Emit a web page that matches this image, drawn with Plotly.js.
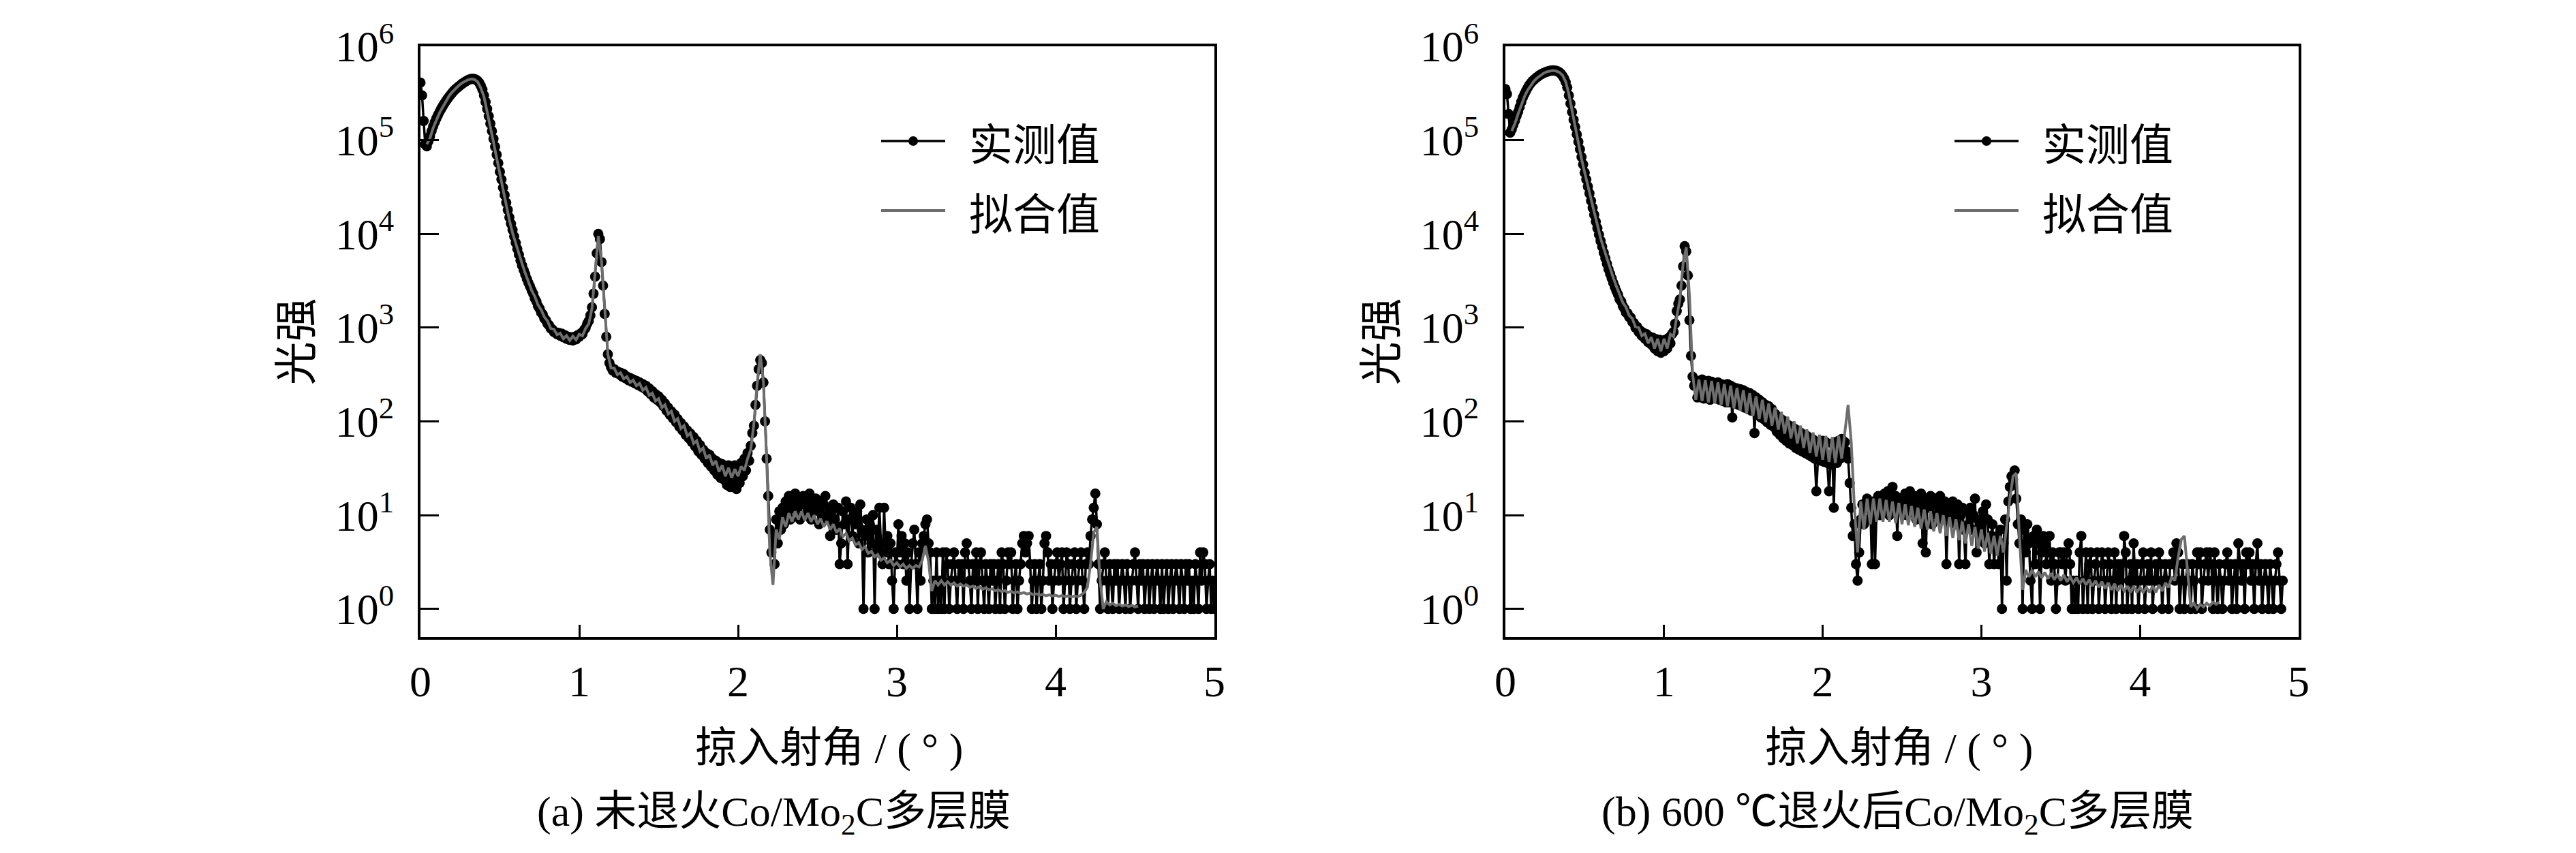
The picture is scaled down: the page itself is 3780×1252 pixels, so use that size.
<!DOCTYPE html>
<html>
<head>
<meta charset="utf-8">
<script src="https://cdn.plot.ly/plotly-3.0.1.min.js"></script>
<style>
  body { margin: 0; background: #fff; }
  #chart { width: 3780px; height: 1252px; }
</style>
</head>
<body>
<div id="chart"></div>
<script>
// scan settings (instrument steps, degrees)
var scanStart = 0, scanStep = 0.01;
var fitStart = 0.04, fitStep = 0.02;

// (a) as-deposited, measured counts, one value per 0.01 deg
var measuredA = [
  410000, 300000, 160000, 90000, 86000, 97000, 110000, 125000, 140000, 155000,
  170000, 185000, 200000, 215000, 230000, 245000, 260000, 275000, 290000, 305000,
  320000, 335000, 348000, 360000, 372000, 384000, 396000, 407000, 418000, 428000,
  437000, 444000, 449000, 450000, 447000, 440000, 428000, 408000, 380000, 345000,
  300000, 255000, 215000, 180000, 150000, 125000, 103000, 85000, 70000, 57000,
  46000, 38000, 31000, 26000, 21500, 18000, 15000, 12800, 11000, 9400,
  8000, 6900, 6000, 5200, 4600, 4100, 3700, 3300, 3000, 2750,
  2500, 2300, 2050, 1900, 1700, 1600, 1450, 1380, 1250, 1200,
  1100, 1060, 980, 960, 900, 890, 850, 880, 820, 860,
  790, 830, 760, 800, 740, 790, 730, 800, 750, 830,
  800, 870, 850, 940, 990, 1100, 1180, 1350, 1650, 2300,
  3500, 6200, 10000, 8800, 5000, 2800, 1400, 800, 520, 420,
  380, 350, 360, 330, 340, 320, 330, 300, 320, 290,
  300, 275, 290, 265, 280, 255, 270, 245, 260, 235,
  250, 225, 240, 210, 225, 195, 210, 180, 195, 170,
  185, 160, 170, 145, 155, 130, 140, 118, 128, 108,
  118, 98, 106, 88, 96, 80, 88, 72, 80, 66,
  74, 60, 68, 54, 62, 48, 56, 44, 50, 40,
  46, 36, 44, 33, 40, 30, 38, 27, 36, 25,
  35, 24, 33, 21, 34, 20, 32, 22, 34, 19,
  33, 22, 36, 26, 40, 30, 46, 38, 55, 75,
  90, 150, 240, 360, 450, 420, 260, 100, 40, 16,
  7, 4, 6, 3, 9, 5, 11, 7, 12, 8,
  14, 10, 16, 9, 15, 12, 17, 11, 14, 9,
  13, 16, 10, 15, 12, 17, 9, 14, 11, 15,
  12, 8, 14, 10, 13, 16, 9, 12, 6, 11,
  13, 9, 7, 12, 3, 5, 11, 8, 14, 3,
  9, 12, 6, 10, 8, 11, 5, 13, 7, 1,
  6, 9, 4, 8, 5, 10, 1, 7, 4, 12,
  5, 3, 12, 4, 6, 3, 5, 2, 1, 4,
  3, 8, 4, 6, 3, 5, 2, 4, 1, 3,
  5, 7, 3, 1, 4, 2, 5, 6, 8, 9,
  5, 4, 1, 2, 1, 4, 1, 2, 1, 4,
  1, 4, 3, 1, 2, 3, 4, 2, 1, 3,
  2, 3, 1, 4, 5, 3, 2, 1, 3, 2,
  4, 1, 3, 4, 2, 1, 3, 2, 1, 3,
  2, 3, 1, 2, 3, 1, 4, 3, 1, 2,
  4, 3, 4, 1, 2, 3, 1, 2, 3, 5,
  6, 4, 5, 6, 3, 1, 2, 3, 1, 2,
  3, 1, 2, 5, 6, 4, 2, 3, 1, 2,
  3, 4, 2, 3, 4, 1, 2, 4, 3, 1,
  2, 3, 4, 1, 2, 3, 4, 2, 1, 3,
  4, 3, 6, 9, 12, 17, 8, 3, 1, 2,
  3, 4, 2, 1, 3, 2, 1, 3, 2, 3,
  1, 2, 3, 2, 1, 3, 2, 1, 2, 3,
  4, 2, 1, 3, 2, 3, 1, 2, 3, 1,
  2, 3, 1, 2, 3, 2, 1, 3, 1, 2,
  3, 1, 2, 3, 1, 2, 3, 2, 1, 3,
  2, 1, 3, 2, 3, 1, 2, 1, 3, 2,
  1, 4, 2, 4, 3, 1, 2, 3, 1, 2, 1
];

// (a) fitted curve, one value per 0.02 deg from 0.04
var fitA = [
  90000, 105000, 135000, 165000, 195000, 225000, 260000, 295000, 325000, 355000,
  380000, 405000, 425000, 440000, 448000, 443000, 418000, 360000, 290000, 205000,
  140000, 95000, 64000, 43000, 29000, 20000, 14000, 10200, 7800, 6000,
  4800, 3800, 3100, 2500, 2150, 1750, 1550, 1300, 1180, 980,
  960, 840, 870, 760, 820, 730, 810, 740, 850, 820,
  980, 1100, 1600, 3600, 9500, 5200, 1500, 520, 370, 370,
  315, 330, 285, 300, 260, 275, 240, 255, 215, 230,
  190, 200, 165, 175, 140, 150, 120, 128, 100, 107,
  84, 90, 70, 75, 58, 62, 48, 52, 40, 44,
  34, 38, 29, 34, 26, 32, 25, 31, 26, 33,
  30, 40, 50, 95, 250, 520, 260, 40, 4, 1.8,
  7, 5.5, 9.5, 7.5, 10.5, 8.5, 11, 9, 11, 8.8,
  10.5, 8.5, 10, 8, 9.2, 7.5, 8.6, 7, 8, 6.5,
  7.2, 5.9, 6.4, 5.3, 5.7, 4.8, 5.1, 4.3, 4.6, 3.9,
  4.1, 3.6, 3.8, 3.3, 3.5, 3.1, 3.3, 2.9, 3.1, 2.8,
  3.0, 2.7, 2.9, 2.7, 2.9, 2.8, 3.3, 4.7, 3.2, 1.55,
  2.0, 1.8, 2.0, 1.8, 1.95, 1.8, 1.9, 1.75, 1.85, 1.75,
  1.8, 1.7, 1.75, 1.65, 1.72, 1.62, 1.68, 1.6, 1.64, 1.56,
  1.6, 1.53, 1.57, 1.5, 1.54, 1.48, 1.52, 1.46, 1.49, 1.44,
  1.47, 1.42, 1.45, 1.4, 1.43, 1.38, 1.41, 1.37, 1.4, 1.36,
  1.39, 1.35, 1.38, 1.34, 1.37, 1.35, 1.4, 1.5, 1.7, 3.0,
  6.5, 7.5, 2.0, 1.0, 1.2, 1.1, 1.15, 1.08, 1.12, 1.07,
  1.1, 1.06, 1.09, 1.05, 1.07
];

// (b) annealed at 600 C, measured counts, one value per 0.01 deg
var measuredB = [
  350000, 310000, 190000, 120000, 130000, 145000, 160000, 180000, 200000, 225000,
  255000, 285000, 310000, 335000, 360000, 385000, 405000, 425000, 440000, 455000,
  470000, 485000, 497000, 508000, 518000, 527000, 535000, 542000, 548000, 552000,
  555000, 553000, 548000, 540000, 528000, 510000, 485000, 455000, 415000, 365000,
  300000, 245000, 200000, 165000, 138000, 115000, 96000, 80000, 66000, 55000,
  45000, 38000, 32000, 27000, 22500, 19000, 16000, 13500, 11500, 9800,
  8400, 7300, 6300, 5500, 4800, 4200, 3750, 3350, 3000, 2700,
  2450, 2250, 2000, 1900, 1700, 1600, 1450, 1420, 1300, 1280,
  1150, 1120, 1000, 1020, 900, 930, 820, 880, 760, 850,
  700, 800, 660, 780, 600, 750, 560, 740, 540, 730,
  560, 740, 600, 780, 680, 850, 900, 1100, 1500, 1800,
  2000, 2800, 4500, 7400, 6500, 3600, 1200, 500, 300, 240,
  260, 180, 270, 190, 280, 175, 260, 185, 270, 170,
  265, 180, 250, 175, 260, 170, 250, 165, 245, 160,
  250, 160, 240, 110, 230, 155, 225, 150, 220, 145,
  215, 140, 205, 135, 200, 130, 190, 75, 180, 120,
  170, 110, 160, 105, 150, 98, 145, 92, 135, 88,
  120, 78, 112, 72, 105, 66, 100, 62, 92, 58,
  88, 56, 84, 52, 80, 50, 76, 48, 72, 46,
  70, 44, 66, 42, 64, 40, 18, 39, 60, 38,
  62, 37, 60, 36, 18, 35, 58, 12, 60, 36,
  62, 40, 65, 45, 60, 48, 40, 22, 12, 6,
  8, 3, 2, 4, 9, 13, 8, 12, 15, 9,
  13, 3, 14, 3, 12, 16, 10, 14, 11, 17,
  12, 18, 10, 15, 20, 12, 16, 6, 14, 11,
  15, 12, 17, 10, 14, 18, 11, 13, 16, 9,
  14, 11, 17, 5, 13, 4, 15, 12, 16, 8,
  13, 15, 10, 12, 16, 9, 11, 14, 3, 10,
  12, 9, 14, 11, 8, 13, 3, 10, 12, 7,
  3, 11, 8, 12, 7, 10, 15, 4, 9, 6,
  8, 11, 5, 13, 9, 3, 6, 8, 3, 5,
  6, 3, 7, 1, 5, 9, 2, 14, 20, 26,
  24, 30, 15, 8, 5, 9, 1, 7, 4, 8,
  5, 2, 1, 6, 3, 7, 5, 1, 4, 6,
  5, 3, 4, 6, 2, 4, 3, 1, 2, 4,
  4, 3, 4, 2, 4, 5, 3, 1, 2, 1,
  2, 1, 4, 6, 1, 2, 4, 1, 3, 4,
  1, 2, 3, 4, 1, 2, 4, 3, 1, 2,
  4, 3, 1, 2, 4, 1, 3, 2, 3, 1,
  6, 4, 1, 2, 3, 1, 5, 2, 3, 1,
  2, 3, 4, 1, 2, 3, 2, 4, 1, 2,
  3, 2, 4, 3, 1, 2, 3, 2, 1, 3,
  3, 4, 2, 5, 4, 1, 2, 3, 1, 2,
  3, 2, 1, 3, 2, 1, 4, 3, 4, 1,
  2, 3, 4, 2, 4, 3, 1, 4, 2, 1,
  3, 2, 1, 2, 3, 4, 2, 3, 1, 2,
  3, 1, 5, 3, 2, 3, 1, 4, 3, 4,
  2, 3, 1, 3, 5, 2, 3, 1, 2, 3,
  2, 1, 3, 2, 1, 2, 3, 4, 2, 1,
  2
];

// (b) fitted curve, one value per 0.02 deg from 0.04
var fitB = [
  125000, 150000, 190000, 240000, 290000, 340000, 385000, 425000, 460000, 490000,
  515000, 535000, 548000, 552000, 545000, 528000, 492000, 420000, 310000, 205000,
  135000, 92000, 63000, 45000, 32000, 23500, 17000, 12500, 9000, 7000,
  5400, 4300, 3400, 2750, 2300, 1850, 1650, 1350, 1250, 1020,
  1000, 820, 860, 680, 790, 600, 760, 560, 760, 600,
  850, 800, 1300, 2000, 4800, 7200, 2200, 320, 170, 280,
  165, 275, 160, 270, 155, 260, 150, 250, 145, 240,
  138, 228, 130, 215, 122, 200, 114, 185, 106, 170,
  98, 155, 90, 140, 82, 126, 74, 112, 66, 100,
  58, 90, 52, 82, 46, 76, 42, 72, 39, 70,
  37, 68, 36, 70, 40, 75, 150, 60, 12, 4,
  14, 7, 15, 8, 15, 8.5, 15, 8.5, 14.5, 8.5,
  14, 8.2, 13.5, 8, 13, 7.8, 12.5, 7.5, 12, 7.2,
  11.5, 7, 11, 6.7, 10.5, 6.4, 10, 6, 9.5, 5.7,
  9, 5.4, 8.5, 5, 8, 4.7, 7.5, 4.4, 7, 4.1,
  6.5, 3.9, 6, 3.7, 6, 4, 8, 15, 26, 28,
  6, 1.6, 2.6, 2.2, 2.6, 2.2, 2.5, 2.15, 2.45, 2.1,
  2.4, 2.05, 2.35, 2.0, 2.3, 1.95, 2.2, 1.9, 2.15, 1.85,
  2.1, 1.8, 2.05, 1.75, 2.0, 1.7, 1.95, 1.65, 1.9, 1.6,
  1.85, 1.55, 1.8, 1.55, 1.75, 1.5, 1.75, 1.5, 1.7, 1.5,
  1.7, 1.5, 1.75, 1.5, 1.8, 1.55, 1.9, 1.7, 2.2, 2.0,
  3.5, 5.5, 6.0, 2.5, 1.05, 1.15, 1.0, 1.12, 1.05, 1.15,
  1.08, 1.18, 1.12, 1.18
];

var xTickVals = [0, 1, 2, 3, 4, 5];
var yTickVals = [1, 10, 100, 1000, 10000, 100000, 1000000];
var yTickText = ['10<sup>0</sup>', '10<sup>1</sup>', '10<sup>2</sup>', '10<sup>3</sup>',
                 '10<sup>4</sup>', '10<sup>5</sup>', '10<sup>6</sup>'];
var seriesNames = ['实测值', '拟合值'];
var panelTitles = ['(a) 未退火Co/Mo<sub>2</sub>C多层膜', '(b) 600 ℃退火后Co/Mo<sub>2</sub>C多层膜'];
var xTitle = '掠入射角 / ( ° )';
var yTitle = '光强';

// page geometry in pixels
var W = 3780, H = 1252;
function px(v) { return v / W; }
function py(v) { return 1 - v / H; }

var serif = 'Liberation Serif, "Noto Sans CJK SC", serif';
var cjk = '"Noto Sans CJK SC", sans-serif';
var measColor = '#000000';
var fitColor = '#6e6e6e';

// frames of the two panels
var frameA = [617, 1782];
var frameB = [2209, 3373];
var frameTop = 68, frameBottom = 935;

var traces = [
  { x0: scanStart, dx: scanStep, y: measuredA, xaxis: 'x', yaxis: 'y',
    mode: 'lines+markers', line: { color: measColor, width: 3.5 },
    marker: { color: measColor, size: 15 }, name: seriesNames[0], showlegend: false },
  { x0: fitStart, dx: fitStep, y: fitA, xaxis: 'x', yaxis: 'y',
    mode: 'lines', line: { color: fitColor, width: 4 }, name: seriesNames[1], showlegend: false },
  { x0: scanStart, dx: scanStep, y: measuredB, xaxis: 'x2', yaxis: 'y2',
    mode: 'lines+markers', line: { color: measColor, width: 3.5 },
    marker: { color: measColor, size: 15 }, name: seriesNames[0], showlegend: false },
  { x0: fitStart, dx: fitStep, y: fitB, xaxis: 'x2', yaxis: 'y2',
    mode: 'lines', line: { color: fitColor, width: 4 }, name: seriesNames[1], showlegend: false }
];

function xAxis(frame, anchor) {
  return {
    domain: [px(frame[0]), px(frame[1])], anchor: anchor,
    range: [0, 5], tickvals: xTickVals, ticks: 'inside', ticklen: 18, tickwidth: 3,
    tickcolor: '#000', showline: true, linecolor: '#000', linewidth: 4, mirror: true,
    showgrid: false, zeroline: false, ticklabelstandoff: 6,
    tickfont: { family: serif, size: 64, color: '#000' }
  };
}
function yAxis(anchor) {
  return {
    domain: [py(frameBottom), py(frameTop)], anchor: anchor,
    type: 'log', range: [-0.3, 6.0], tickvals: yTickVals, ticktext: yTickText,
    ticks: 'inside', ticklen: 27, tickwidth: 3, tickcolor: '#000',
    showline: true, linecolor: '#000', linewidth: 4, mirror: true,
    showgrid: false, zeroline: false, ticklabelstandoff: 22,
    tickfont: { family: serif, size: 64, color: '#000' }
  };
}

// legend drawn by hand: long sample lines as in the figure
var shapes = [], annotations = [];
[1293, 1293 + 1575].forEach(function (lx) {
  var rows = [207, 309];
  shapes.push({ type: 'line', xref: 'paper', yref: 'paper', x0: px(lx), x1: px(lx + 94),
                y0: py(rows[0]), y1: py(rows[0]), line: { color: measColor, width: 3.5 } });
  shapes.push({ type: 'circle', xref: 'paper', yref: 'paper', fillcolor: measColor,
                x0: px(lx + 47 - 7), x1: px(lx + 47 + 7), y0: py(rows[0] + 7), y1: py(rows[0] - 7),
                line: { color: measColor, width: 0 } });
  shapes.push({ type: 'line', xref: 'paper', yref: 'paper', x0: px(lx), x1: px(lx + 94),
                y0: py(rows[1]), y1: py(rows[1]), line: { color: fitColor, width: 4 } });
  for (var i = 0; i < 2; i++) {
    annotations.push({ xref: 'paper', yref: 'paper', x: px(lx + 127), y: py(rows[i]),
                       xanchor: 'left', yanchor: 'middle', showarrow: false, text: seriesNames[i],
                       font: { family: cjk, size: 64, color: '#000' } });
  }
});

// axis titles and panel captions
[[428, 1216, 1135, 0], [2020, 2786, 2784, 1]].forEach(function (p) {
  annotations.push({ xref: 'paper', yref: 'paper', x: px(p[0]), y: py((frameTop + frameBottom) / 2),
                     xanchor: 'center', yanchor: 'middle', textangle: -90, showarrow: false,
                     text: yTitle, font: { family: cjk, size: 64, color: '#000' } });
  annotations.push({ xref: 'paper', yref: 'paper', x: px(p[1]), y: py(1098),
                     xanchor: 'center', yanchor: 'middle', showarrow: false, text: xTitle,
                     font: { family: serif, size: 62, color: '#000' } });
  annotations.push({ xref: 'paper', yref: 'paper', x: px(p[2]), y: py(1195),
                     xanchor: 'center', yanchor: 'middle', showarrow: false, text: panelTitles[p[3]],
                     font: { family: serif, size: 62, color: '#000' } });
});

var layout = {
  width: W, height: H,
  margin: { l: 0, r: 0, t: 0, b: 0 },
  paper_bgcolor: '#fff', plot_bgcolor: '#fff',
  showlegend: false,
  xaxis: xAxis(frameA, 'y'), yaxis: yAxis('x'),
  xaxis2: xAxis(frameB, 'y2'), yaxis2: yAxis('x2'),
  shapes: shapes, annotations: annotations
};

Plotly.newPlot('chart', traces, layout, { displayModeBar: false, staticPlot: true });
</script>
</body>
</html>
